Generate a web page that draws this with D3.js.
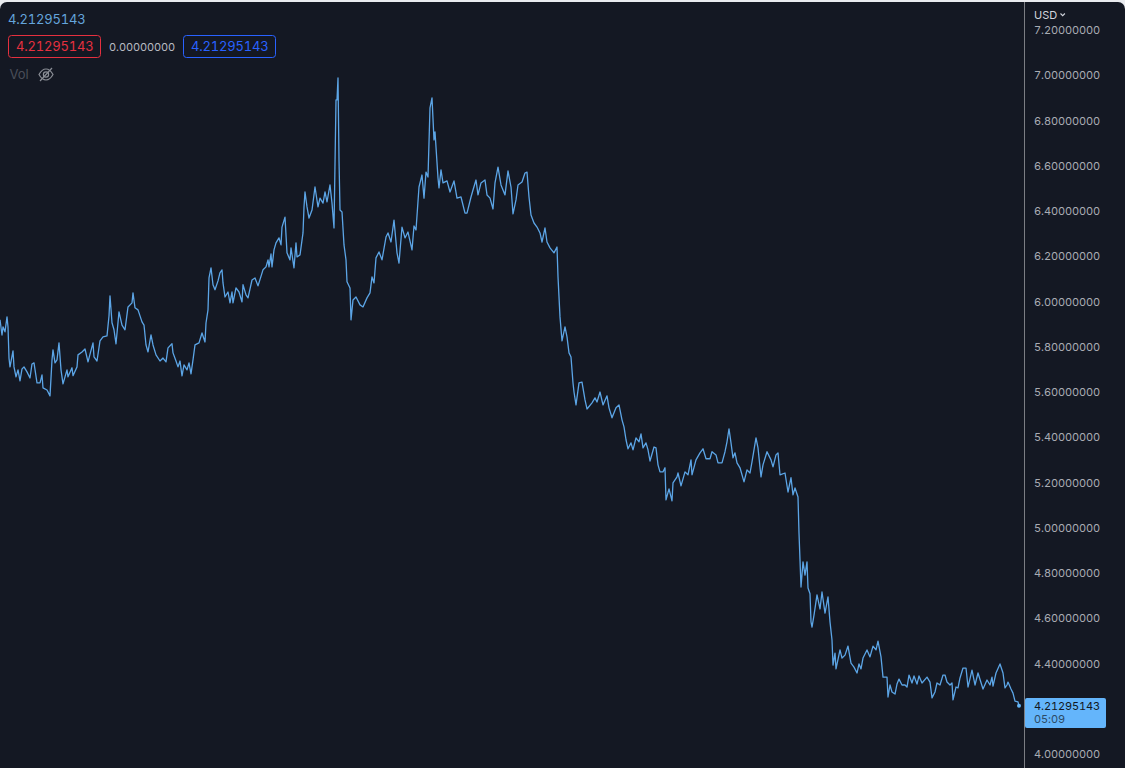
<!DOCTYPE html>
<html><head><meta charset="utf-8">
<script src="https://cdn.jsdelivr.net/npm/d3@7/dist/d3.min.js"></script>
<style>html,body{margin:0;padding:0;background:#e9ebef;overflow:hidden}svg{display:block;font-family:Inter,sans-serif}text{font-variant-numeric:tabular-nums;font-feature-settings:"tnum"}</style>
</head><body><svg id="c" width="1125" height="768"></svg>
<script>
const barIndex=[0,2,3,5,7,8,9,10,13,14,16,18,20,22,24,27,30,32,34,37,40,42,43,47,50,52,53,55,57,59,61,63,67,68,72,73,77,78,82,85,88,93,94,97,100,103,107,109,110,112,114,116,119,122,125,128,132,133,135,138,142,144,146,148,151,153,156,160,163,166,168,172,173,176,178,180,182,184,187,189,191,193,195,199,202,205,206,208,209,211,213,215,218,220,222,223,225,228,230,232,233,236,239,242,243,246,248,252,255,258,263,266,268,269,271,272,274,276,279,281,282,285,287,290,291,294,296,297,300,303,304,305,307,309,312,315,318,320,323,325,327,330,332,334,336,337,338,339,340,342,344,346,347,350,351,353,356,360,363,367,370,372,374,376,379,382,386,388,391,394,397,399,402,405,408,412,414,416,419,422,424,426,428,430,432,434,435,438,439,441,443,447,450,454,457,461,465,467,471,473,476,478,481,485,487,490,493,495,498,501,505,508,511,513,516,518,522,525,527,529,531,534,537,540,542,545,547,550,554,557,558,560,562,565,567,569,571,573,574,576,579,582,585,587,592,595,597,600,603,607,609,612,616,619,622,624,626,628,631,633,636,639,641,643,646,648,650,654,656,658,660,663,665,666,669,672,673,677,678,681,685,688,691,692,696,700,703,706,710,712,716,718,722,725,727,729,731,733,735,737,740,744,747,750,752,756,758,761,763,767,771,773,776,778,780,785,788,791,793,795,798,799,801,803,805,807,808,810,811,812,814,817,820,822,825,828,830,832,833,835,836,840,842,845,848,851,854,857,859,861,863,867,870,873,876,878,881,883,887,888,890,892,895,897,899,902,905,907,909,912,914,917,919,922,927,930,932,935,937,940,943,945,947,950,952,953,956,958,960,963,966,968,972,975,978,983,987,990,992,993,996,1000,1003,1005,1007,1008,1011,1013,1015,1018,1019];
const closePrices=[5.919,5.852,5.888,5.866,5.932,5.888,5.750,5.711,5.782,5.711,5.667,5.698,5.649,5.702,5.711,5.689,5.662,5.724,5.729,5.640,5.640,5.676,5.618,5.609,5.583,5.742,5.786,5.729,5.742,5.817,5.698,5.636,5.698,5.667,5.707,5.672,5.711,5.764,5.777,5.790,5.733,5.817,5.755,5.737,5.826,5.844,5.848,5.936,6.025,5.906,5.875,5.813,5.954,5.896,5.875,5.976,5.994,6.038,5.972,5.963,5.910,5.896,5.808,5.777,5.852,5.808,5.764,5.737,5.750,5.733,5.795,5.813,5.773,5.737,5.711,5.737,5.671,5.720,5.698,5.729,5.680,5.742,5.808,5.817,5.861,5.821,5.905,5.963,6.104,6.149,6.074,6.052,6.091,6.127,6.140,6.082,6.020,6.042,5.994,6.042,5.994,6.060,6.042,5.998,6.074,6.029,6.016,6.095,6.104,6.069,6.140,6.153,6.184,6.153,6.210,6.153,6.228,6.259,6.281,6.250,6.329,6.373,6.215,6.184,6.237,6.149,6.259,6.197,6.206,6.303,6.418,6.484,6.418,6.369,6.404,6.506,6.418,6.457,6.435,6.484,6.440,6.515,6.435,6.325,6.891,6.891,6.988,6.626,6.404,6.396,6.250,6.184,6.087,6.060,5.919,6.007,6.020,5.985,5.976,6.016,6.038,6.109,6.082,6.193,6.219,6.184,6.285,6.303,6.263,6.360,6.215,6.170,6.329,6.281,6.307,6.228,6.334,6.316,6.506,6.559,6.457,6.572,6.550,6.856,6.900,6.714,6.750,6.546,6.502,6.582,6.524,6.533,6.484,6.533,6.457,6.462,6.391,6.391,6.462,6.493,6.537,6.471,6.524,6.537,6.471,6.457,6.409,6.524,6.594,6.515,6.471,6.577,6.506,6.387,6.449,6.515,6.528,6.568,6.572,6.462,6.382,6.347,6.329,6.303,6.263,6.325,6.263,6.237,6.215,6.241,6.109,5.932,5.826,5.888,5.844,5.773,5.755,5.640,5.600,5.543,5.640,5.644,5.565,5.525,5.552,5.574,5.556,5.600,5.543,5.583,5.530,5.486,5.530,5.543,5.477,5.446,5.389,5.349,5.375,5.344,5.397,5.380,5.415,5.353,5.375,5.344,5.295,5.357,5.353,5.278,5.247,5.247,5.265,5.123,5.172,5.119,5.198,5.225,5.242,5.185,5.247,5.234,5.300,5.234,5.300,5.331,5.349,5.305,5.305,5.336,5.322,5.287,5.287,5.336,5.380,5.437,5.375,5.309,5.331,5.287,5.265,5.203,5.256,5.242,5.291,5.397,5.353,5.225,5.278,5.336,5.300,5.269,5.322,5.331,5.234,5.242,5.158,5.221,5.145,5.176,5.136,4.977,4.738,4.849,4.791,4.849,4.734,4.708,4.584,4.561,4.614,4.703,4.641,4.716,4.623,4.694,4.584,4.504,4.393,4.446,4.376,4.460,4.424,4.437,4.477,4.402,4.384,4.358,4.398,4.376,4.424,4.460,4.429,4.477,4.460,4.499,4.429,4.340,4.340,4.252,4.305,4.274,4.265,4.309,4.331,4.305,4.305,4.296,4.349,4.314,4.345,4.309,4.345,4.314,4.340,4.318,4.248,4.274,4.314,4.305,4.349,4.349,4.318,4.305,4.314,4.239,4.296,4.292,4.336,4.380,4.380,4.296,4.371,4.305,4.358,4.287,4.327,4.305,4.340,4.300,4.358,4.398,4.358,4.292,4.305,4.318,4.287,4.269,4.234,4.230,4.213];
const priceTicks=[4.0,4.2,4.4,4.6,4.8,5.0,5.2,5.4,5.6,5.8,6.0,6.2,6.4,6.6,6.8,7.0,7.2];
const hiddenTicks=[4.2];
const lastPrice="4.21295143", changeText="0.00000000", countdown="05:09";

const svg=d3.select("#c");
svg.append("rect").attr("x",0).attr("y",2).attr("width",1125).attr("height",790).attr("rx",7).attr("fill","#141823");
const x=d3.scaleLinear().domain([0,1024]).range([0,1024]);
const y=d3.scaleLinear().domain([4.0,7.2]).range([754,30]);
const pts=barIndex.map((b,i)=>[b,closePrices[i]]);
svg.append("path").datum(pts)
  .attr("d",d3.line().x(d=>x(d[0])).y(d=>y(d[1])))
  .attr("fill","none").attr("stroke","#5ca5e6").attr("stroke-width",1.3).attr("stroke-linejoin","round");
svg.append("circle").attr("cx",x(1019)).attr("cy",y(4.21295143)).attr("r",2).attr("fill","#64b5f6");

svg.append("line").attr("x1",1024.5).attr("x2",1024.5).attr("y1",2).attr("y2",768).attr("stroke","#7c7e84");
const axis=d3.axisRight(y).tickValues(priceTicks.filter(t=>!hiddenTicks.includes(t))).tickSize(0).tickPadding(0).tickFormat(d3.format(".8f"));
const gA=svg.append("g").attr("transform","translate(1034,0)").call(axis);
gA.select(".domain").remove();
gA.selectAll("text").attr("fill","#a9acb4").attr("font-size",11).attr("font-family","Inter,sans-serif").attr("letter-spacing",-0.1);

// price tag
svg.append("rect").attr("x",1025).attr("y",698).attr("width",81).attr("height",30).attr("rx",2).attr("fill","#64b5fb");
svg.append("text").attr("x",1034).attr("y",710).attr("font-size",11).attr("fill","#131722").attr("letter-spacing",-0.1).text(lastPrice);
svg.append("text").attr("x",1034).attr("y",723).attr("font-size",11).attr("fill","#2c4a66").attr("letter-spacing",-0.1).text(countdown);
// currency
svg.append("text").attr("x",1034).attr("y",19).attr("font-size",11).attr("fill","#d1d4dc").text("USD");
svg.append("path").attr("d","M1060.5 13.5l2.2 2.2 2.2-2.2").attr("fill","none").attr("stroke","#d1d4dc").attr("stroke-width",1.1);

// legend
svg.append("text").attr("x",8).attr("y",24).attr("font-size",13).attr("fill","#64a5dc").attr("letter-spacing",-0.2).text(lastPrice);
const box=(bx,c,t)=>{
  svg.append("rect").attr("x",bx+.5).attr("y",35.5).attr("width",92).attr("height",22).attr("rx",3).attr("fill","none").attr("stroke",c);
  svg.append("text").attr("x",bx+8).attr("y",51).attr("font-size",13).attr("fill",c).attr("letter-spacing",-0.2).text(t);
};
box(8,"#e5303f",lastPrice);
box(183,"#2962ff",lastPrice);
svg.append("text").attr("x",109).attr("y",51).attr("font-size",11).attr("fill","#b8bbc2").attr("letter-spacing",-0.1).text(changeText);
svg.append("text").attr("x",9.5).attr("y",79).attr("font-size",13).attr("fill","#4a4e59").text("Vol");
const eye=svg.append("g").attr("fill","none").attr("stroke","#8b8e96").attr("stroke-width",1.2);
eye.append("path").attr("d","M39 74.5c2-3.6 4.600-5.500 7-5.500s5 1.900 7 5.500c-2 3.600-4.600 5.500-7 5.500s-5-1.900-7-5.500z");
eye.append("circle").attr("cx",46).attr("cy",74.5).attr("r",2.600);
eye.append("line").attr("x1",40).attr("y1",81).attr("x2",52).attr("y2",68);
</script></body></html>
